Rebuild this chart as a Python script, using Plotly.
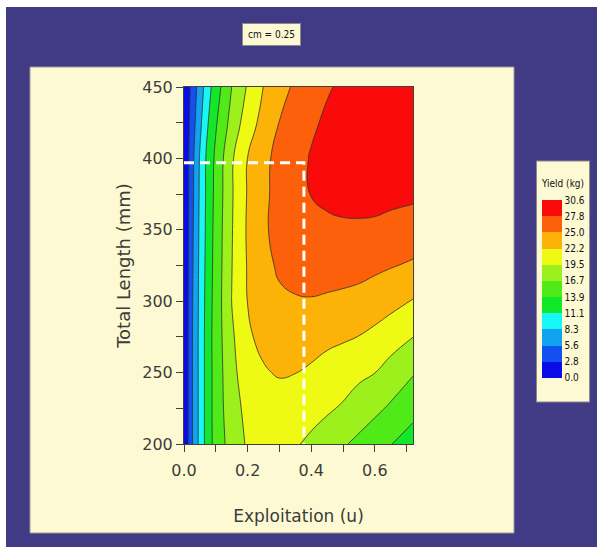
import plotly.graph_objects as go

# --- data --------------------------------------------------------------
exploitation = [0, 0.025, 0.05, 0.075, 0.1, 0.15, 0.2, 0.25, 0.3, 0.35,
                0.4, 0.45, 0.5, 0.55, 0.6, 0.65, 0.72]
total_length = [200, 225, 250, 275, 300, 325, 350, 375, 400, 425, 450]

# yield (kg), one row per total length
yield_200 = [0, 5.3, 9.2, 12.6, 15.0, 17.9, 19.8, 20.5, 20.3, 19.7, 19.0, 18.2, 17.0, 16.0, 15.0, 14.0, 12.6]
yield_225 = [0, 5.3, 9.2, 12.6, 15.1, 18.4, 20.2, 20.8, 20.9, 20.7, 20.3, 19.8, 19.2, 18.3, 17.3, 16.3, 14.8]
yield_250 = [0, 5.3, 9.2, 12.6, 15.1, 18.7, 21.0, 22.0, 22.5, 22.3, 21.9, 21.2, 20.6, 20.0, 19.5, 18.4, 16.9]
yield_275 = [0, 5.3, 9.2, 12.6, 15.2, 19.0, 21.9, 22.9, 23.3, 23.35, 23.2, 22.9, 22.6, 22.2, 21.6, 20.7, 19.5]
yield_300 = [0, 5.2, 9.1, 12.5, 15.1, 19.5, 22.3, 23.8, 24.6, 24.85, 24.9, 24.7, 24.4, 24.1, 23.6, 23.1, 22.1]
yield_325 = [0, 5.05, 9.0, 12.35, 15.0, 19.4, 22.45, 24.3, 25.4, 25.8, 26.0, 26.1, 26.2, 26.0, 25.6, 25.2, 24.7]
yield_350 = [0, 4.9, 8.9, 12.2, 14.9, 19.3, 22.6, 24.6, 26.0, 26.6, 26.9, 27.2, 27.4, 27.4, 27.3, 27.0, 26.6]
yield_375 = [0, 4.75, 8.75, 12.1, 14.7, 19.2, 22.45, 24.5, 25.9, 26.9, 27.9, 28.4, 28.6, 28.7, 28.7, 28.5, 28.3]
yield_400 = [0, 4.6, 8.6, 12.0, 14.5, 19.1, 22.3, 24.4, 25.8, 26.95, 28.0, 28.6, 29.0, 29.3, 29.5, 29.6, 29.7]
yield_425 = [0, 4.1, 7.7, 11.0, 13.6, 17.7, 20.9, 23.2, 25.1, 26.3, 27.45, 28.2, 28.7, 29.0, 29.3, 29.45, 29.6]
yield_450 = [0, 3.6, 6.9, 10.0, 12.6, 16.7, 19.75, 22.3, 24.0, 25.5, 26.6, 27.6, 28.2, 28.7, 29.0, 29.3, 29.5]

yield_rows = [yield_200, yield_225, yield_250, yield_275, yield_300, yield_325,
              yield_350, yield_375, yield_400, yield_425, yield_450]

yield_max = 30.6
n_bands = 11
legend_labels = ["0.0", "2.8", "5.6", "8.3", "11.1", "13.9", "16.7",
                 "19.5", "22.2", "25.0", "27.8", "30.6"]

# optimum marked with the dashed white lines
opt_u = 0.377
opt_length = 397

# --- styling ------------------------------------------------------------
BG_BLUE = "#413A84"
CREAM = "#FDFAD3"
AXIS_COLOR = "#404040"
band_colors = ["#0A0CE8", "#1250F0", "#12A2F2", "#18F6F6", "#12E82A", "#50EA18",
               "#9CF01C", "#EEFA14", "#FCB206", "#FD600A", "#FA0A0A"]

step = yield_max / n_bands
levels = [i * step for i in range(n_bands + 1)]

# fill colour of band k is sampled at fraction (k+1)/12; both ends (only used
# by the half bands plotly adds to the colorbar) are the panel colour
colorscale = [[0, CREAM]]
for k, c in enumerate(band_colors):
    colorscale.append([(k + 1) / (n_bands + 1), c])
colorscale.append([1, CREAM])

NARROW = "DejaVu Sans Condensed, Liberation Sans Narrow, Arial Narrow, Liberation Sans, sans-serif"

fig = go.Figure()

fig.add_trace(go.Contour(
    x=exploitation, y=total_length, z=yield_rows,
    autocontour=False,
    contours=dict(start=0, end=yield_max, size=step, coloring="fill", showlines=False),
    line=dict(smoothing=1.3, width=0),
    colorscale=colorscale,
    colorbar=dict(
        title=dict(text="Yield (kg)", side="top", font=dict(family=NARROW, size=10, color="#111")),
        tickvals=levels, ticktext=legend_labels, ticks="",
        tickfont=dict(family=NARROW, size=10, color="#111"),
        thickness=20, outlinewidth=0,
        lenmode="pixels", len=240,
        x=1.541, xanchor="left", xpad=5,
        y=0.7927, yanchor="top", ypad=15,
        bgcolor=CREAM, bordercolor="#8a8a8a", borderwidth=1,
    ),
    hoverinfo="skip",
))

fig.add_trace(go.Contour(
    x=exploitation, y=total_length, z=yield_rows,
    autocontour=False,
    contours=dict(start=step, end=yield_max - step, size=step, coloring="none"),
    line=dict(smoothing=1.3, width=0.8, color="#303030"),
    showscale=False, hoverinfo="skip",
))

fig.add_trace(go.Scatter(
    x=[0, opt_u, opt_u], y=[opt_length, opt_length, total_length[0]],
    mode="lines", line=dict(color="white", width=3, dash="10px,6px"),
    showlegend=False, hoverinfo="skip", cliponaxis=False,
))

# background frame: blue surround and cream panel
fig.add_shape(type="rect", xref="paper", yref="paper",
              x0=-0.7773, x1=1.81, y0=-0.2885, y1=1.2241,
              fillcolor=BG_BLUE, line_width=0, layer="below")
fig.add_shape(type="rect", xref="paper", yref="paper",
              x0=-0.6725, x1=1.441, y0=-0.2493, y1=1.056,
              fillcolor=CREAM, line=dict(color="#9a9a9a", width=1), layer="below")

fig.add_annotation(
    text="cm = 0.25", xref="paper", yref="paper", x=0.38, y=1.147,
    xanchor="center", yanchor="middle",
    showarrow=False, font=dict(family=NARROW, size=10, color="#111"),
    bgcolor=CREAM, bordercolor="#8a8a8a", borderwidth=1, borderpad=5,
)

axis_font = dict(family="DejaVu Sans", size=16, color="#3c3c3c")
fig.update_xaxes(
    range=[0, 0.72], tick0=0, dtick=0.2, tickformat=".1f",
    ticks="outside", ticklen=7, tickcolor=AXIS_COLOR, ticklabelstandoff=5,
    minor=dict(dtick=0.1, tick0=0, ticks="outside", ticklen=7, tickcolor=AXIS_COLOR),
    showline=True, linecolor=AXIS_COLOR, mirror=True, showgrid=False, zeroline=False,
    tickfont=axis_font,
    title=dict(text="Exploitation (u)", font=dict(family="DejaVu Sans", size=17, color="#3c3c3c"), standoff=30),
)
fig.update_yaxes(
    range=[200, 450], tick0=200, dtick=50,
    ticks="outside", ticklen=7, tickcolor=AXIS_COLOR,
    minor=dict(dtick=25, tick0=200, ticks="outside", ticklen=7, tickcolor=AXIS_COLOR),
    showline=True, linecolor=AXIS_COLOR, mirror=True, showgrid=False, zeroline=False,
    tickfont=axis_font,
    title=dict(text="Total Length (mm)", font=dict(family="DejaVu Sans", size=18, color="#3c3c3c"), standoff=6),
)

fig.update_layout(
    width=597, height=552, autosize=False,
    margin=dict(l=184, r=184, t=87, b=108, autoexpand=False),
    paper_bgcolor="white", plot_bgcolor=CREAM,
    showlegend=False,
)

# the page's default body margin would push the 597x552 figure off the window
fig.write_html(
    "out.html",
    config={"displayModeBar": False},
    post_script="document.body.style.margin='0';document.body.style.overflow='hidden';",
)
